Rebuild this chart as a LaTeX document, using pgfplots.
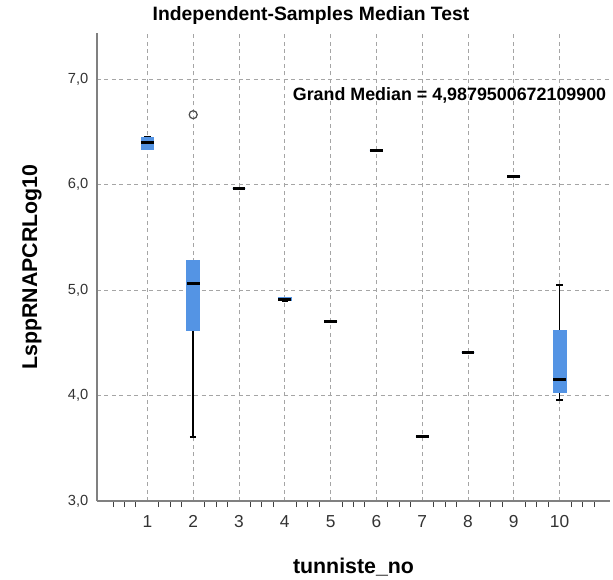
\documentclass[border=0pt]{standalone}
\usepackage{fontspec}
\setmainfont{Liberation Sans}
\usepackage{pgfplots}
\pgfplotsset{compat=1.18}
\usepgfplotslibrary{statistics}
\definecolor{spssblue}{RGB}{84,148,228}
\definecolor{axgray}{RGB}{128,128,128}
\definecolor{gridgray}{RGB}{165,165,165}
\begin{document}
\begin{tikzpicture}
\useasboundingbox (-72.75pt,-58.5pt) rectangle (387pt,375.75pt);
\begin{axis}[
  scale only axis, width=384.75pt, height=351pt,
  xmin=-0.1, xmax=11.1, ymin=3, ymax=7.44,
  axis x line*=bottom, axis y line*=left,
  axis line style={axgray, line width=0.9pt},
  xtick={1,2,3,4,5,6,7,8,9,10},
  ytick={3,4,5,6,7},
  minor xtick={0.25,0.5,0.75,1.25,1.5,1.75,2.25,2.5,2.75,3.25,3.5,3.75,
    4.25,4.5,4.75,5.25,5.5,5.75,6.25,6.5,6.75,7.25,7.5,7.75,8.25,8.5,8.75,
    9.25,9.5,9.75,10.25,10.5,10.75},
  major tick length=0pt, minor tick length=4.5pt, tick align=outside,
  minor tick style={black!75, line width=0.7pt},
  xmajorgrids, ymajorgrids,
  grid style={gridgray, dash pattern=on 3pt off 2.6pt, line width=0.6pt},
  /pgf/number format/assume math mode=true,
  yticklabel style={font=\fontsize{11}{13}\selectfont, color=black!80, xshift=-3pt,
    /pgf/number format/fixed, /pgf/number format/fixed zerofill,
    /pgf/number format/precision=1, /pgf/number format/use comma},
  xticklabel style={font=\fontsize{13}{15}\selectfont, color=black!80, yshift=-7.5pt},
  xlabel={tunniste\_no},
  ylabel={LsppRNAPCRLog10},
  label style={font=\bfseries\fontsize{16}{18}\selectfont},
  xlabel style={at={(axis description cs:0.5,-0.141)}, anchor=center},
  ylabel style={at={(axis description cs:-0.1267,0.5)}, anchor=center},
  boxplot/draw direction=y,
  boxplot/box extend=0.28,
  boxplot/whisker extend=0.14,
  boxplot/every box/.style={fill=spssblue, draw=spssblue, line width=0.6pt},
  boxplot/every median/.style={black, line width=2.2pt},
  boxplot/every whisker/.style={black, line width=1.3pt},
]
\addplot[boxplot prepared={draw position=1, lower whisker=6.34, lower quartile=6.34,
  median=6.40, upper quartile=6.45, upper whisker=6.45}] coordinates {};
\addplot[boxplot prepared={draw position=2, lower whisker=3.61, lower quartile=4.614,
  median=5.063, upper quartile=5.278, upper whisker=5.278}] coordinates {};
\addplot[boxplot prepared={draw position=3, lower whisker=5.966, lower quartile=5.966,
  median=5.966, upper quartile=5.966, upper whisker=5.966}] coordinates {};
\addplot[boxplot prepared={draw position=4, lower whisker=4.90, lower quartile=4.90,
  median=4.915, upper quartile=4.93, upper whisker=4.93}] coordinates {};
\addplot[boxplot prepared={draw position=5, lower whisker=4.703, lower quartile=4.703,
  median=4.703, upper quartile=4.703, upper whisker=4.703}] coordinates {};
\addplot[boxplot prepared={draw position=6, lower whisker=6.327, lower quartile=6.327,
  median=6.327, upper quartile=6.327, upper whisker=6.327}] coordinates {};
\addplot[boxplot prepared={draw position=7, lower whisker=3.616, lower quartile=3.616,
  median=3.616, upper quartile=3.616, upper whisker=3.616}] coordinates {};
\addplot[boxplot prepared={draw position=8, lower whisker=4.41, lower quartile=4.41,
  median=4.41, upper quartile=4.41, upper whisker=4.41}] coordinates {};
\addplot[boxplot prepared={draw position=9, lower whisker=6.083, lower quartile=6.083,
  median=6.083, upper quartile=6.083, upper whisker=6.083}] coordinates {};
\addplot[boxplot prepared={draw position=10, lower whisker=3.957, lower quartile=4.027,
  median=4.153, upper quartile=4.62, upper whisker=5.047}] coordinates {};
% outlier
\addplot[only marks, mark=o, mark size=3pt, draw=black!70, line width=0.9pt]
  coordinates {(2,6.665)};
\node[anchor=west, font=\bfseries\fontsize{13.4}{15}\selectfont, inner sep=0pt]
  at (axis cs:4.17,6.85) {Grand Median = 4,9879500672109900};
\end{axis}
\node[font=\bfseries\fontsize{14.5}{16}\selectfont] at (160.5pt,364pt)
  {Independent-Samples Median Test};
\end{tikzpicture}
\end{document}
